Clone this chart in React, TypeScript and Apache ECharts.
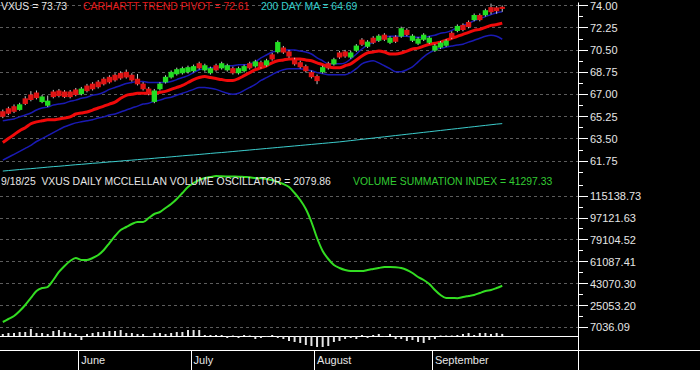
import React, { useEffect, useRef } from 'react';
import * as echarts from 'echarts';

const dates = ['5/12','5/13','5/14','5/15','5/16','5/19','5/20','5/21','5/22','5/23','5/27','5/28','5/29','5/30',
'6/2','6/3','6/4','6/5','6/6','6/9','6/10','6/11','6/12','6/13','6/16','6/17','6/18','6/20','6/23','6/24','6/25','6/26','6/27','6/30',
'7/1','7/2','7/3','7/7','7/8','7/9','7/10','7/11','7/14','7/15','7/16','7/17','7/18','7/21','7/22','7/23','7/24','7/25','7/28','7/29','7/30','7/31',
'8/1','8/4','8/5','8/6','8/7','8/8','8/11','8/12','8/13','8/14','8/15','8/18','8/19','8/20','8/21','8/22','8/25','8/26','8/27','8/28','8/29',
'9/2','9/3','9/4','9/5','9/8','9/9','9/10','9/11','9/12','9/15','9/16','9/17','9/18'];
const futureDates = ['9/19','9/22','9/23','9/24','9/25','9/26','9/29','9/30','10/1','10/2','10/3','10/6','10/7'];
const monthNames: Record<string, string> = { '6': 'June', '7': 'July', '8': 'August', '9': 'September' };

const opens = [65.67,65.90,66.06,65.77,66.68,66.99,67.14,66.39,66.10,67.22,
67.30,67.22,67.22,67.38,67.01,67.69,67.84,68.00,68.23,68.38,
68.54,68.69,68.77,68.54,68.23,67.84,67.45,66.40,67.40,67.94,
68.33,68.58,68.66,68.74,68.82,69.45,68.89,68.66,69.29,69.05,
68.89,69.06,68.66,68.82,69.45,69.20,69.53,69.28,70.15,70.32,
70.69,70.38,69.76,69.53,69.22,68.75,68.44,68.74,69.45,69.36,
70.30,70.38,69.90,70.44,71.31,70.75,71.46,71.22,71.70,71.06,
71.54,71.55,72.08,71.22,70.99,71.30,71.06,70.44,70.68,70.83,
71.85,71.99,72.47,72.70,72.85,73.25,73.23,73.87,73.85,73.90];
const closes = [65.23,65.46,65.62,66.21,66.24,66.55,66.70,66.83,66.50,66.78,
66.86,66.78,66.78,66.94,67.45,67.25,67.40,67.56,67.79,67.94,
68.10,68.25,68.33,68.10,67.79,67.40,67.01,67.30,67.84,68.38,
68.77,68.98,69.06,69.14,69.22,69.05,69.29,69.06,68.89,69.45,
69.29,68.66,69.06,69.22,69.05,69.60,69.13,69.68,69.75,71.12,
70.29,69.98,69.36,69.13,68.82,68.35,68.04,69.14,69.05,69.76,
69.90,69.98,70.30,70.84,70.91,71.15,71.06,71.62,71.30,71.46,
71.14,72.21,71.68,71.62,71.39,71.70,71.46,70.84,71.08,71.23,
71.45,72.39,72.07,72.30,73.25,72.85,73.63,73.47,73.55,73.73];
const highs = [65.80,66.02,66.20,66.33,66.85,67.25,67.30,66.95,66.90,67.35,
67.42,67.33,67.34,67.50,67.58,67.82,67.96,68.12,68.35,68.50,
68.66,68.82,68.95,68.66,68.60,67.96,67.58,67.42,67.96,68.50,
68.88,69.10,69.18,69.26,69.34,69.57,69.41,69.18,69.41,69.57,
69.41,69.18,69.18,69.34,69.57,69.72,69.65,69.80,70.27,71.24,
70.81,70.50,69.88,69.65,69.34,68.87,68.56,69.26,69.57,69.88,
70.42,70.50,70.42,70.96,71.43,71.27,71.58,71.74,71.82,71.58,
71.66,72.33,72.20,71.74,71.51,71.82,71.58,70.96,71.20,71.35,
71.97,72.51,72.59,72.82,73.37,73.37,73.75,74.15,73.95,74.00];
const lows = [65.12,65.36,65.52,65.70,66.15,66.45,66.60,66.30,66.00,66.68,
66.76,66.70,66.68,66.85,66.92,67.15,67.30,67.46,67.70,67.85,
68.00,68.15,68.24,68.00,67.70,67.30,66.92,66.30,67.30,67.85,
68.24,68.48,68.56,68.64,68.72,68.95,68.79,68.56,68.79,68.95,
68.79,68.56,68.56,68.72,68.95,69.10,69.03,69.18,69.65,70.22,
70.19,69.88,69.26,69.03,68.72,68.25,67.80,68.64,68.95,69.26,
69.80,69.88,69.80,70.34,70.81,70.65,70.96,71.12,71.20,70.96,
71.04,71.45,71.58,71.12,70.89,71.20,70.96,70.34,70.58,70.73,
71.35,71.89,71.97,72.20,72.75,72.75,73.13,73.30,73.35,73.50];

const trendPivot = [63.20,63.51,63.82,64.13,64.37,64.68,64.83,64.91,64.99,64.99,
65.06,65.14,65.22,65.45,65.53,65.61,65.76,65.92,66.07,66.23,
66.38,66.69,66.92,67.00,67.08,67.08,67.08,67.08,67.16,67.23,
67.39,67.54,67.70,67.93,68.16,68.32,68.40,68.32,68.24,68.16,
68.09,68.09,68.24,68.47,68.71,68.94,69.09,69.25,69.48,69.64,
69.71,69.79,69.79,69.79,69.71,69.64,69.48,69.33,69.17,69.09,
69.09,69.25,69.40,69.71,70.02,70.26,70.33,70.41,70.33,70.18,
70.18,70.26,70.41,70.57,70.64,70.80,70.95,71.03,71.11,71.26,
71.42,71.57,71.73,71.88,72.04,72.12,72.27,72.43,72.50,72.61];
const upperBand = [64.91,64.99,65.06,65.22,65.37,65.53,65.76,65.92,65.99,66.15,
66.23,66.30,66.46,66.54,66.69,66.77,66.92,67.00,67.16,67.39,
67.54,67.70,67.85,67.93,68.01,68.01,67.93,67.93,67.93,67.93,
68.01,68.16,68.32,68.47,68.71,68.94,69.02,69.09,69.09,69.17,
69.25,69.25,69.33,69.33,69.40,69.56,69.87,70.10,70.33,70.41,
70.49,70.49,70.49,70.41,70.33,70.18,69.87,69.64,69.40,69.40,
69.40,69.48,69.79,70.18,70.57,70.88,71.11,71.34,71.50,71.57,
71.57,71.57,71.57,71.50,71.50,71.50,71.57,71.65,71.81,71.88,
72.04,72.27,72.43,72.58,72.81,72.97,73.12,73.28,73.43,73.51];
const lowerBand = [61.81,62.04,62.27,62.50,62.74,62.97,63.28,63.51,63.74,63.98,
64.21,64.44,64.60,64.75,64.83,64.91,64.99,65.14,65.22,65.37,
65.45,65.61,65.76,65.92,66.07,66.23,66.30,66.46,66.54,66.69,
66.77,66.92,67.08,67.23,67.39,67.54,67.54,67.47,67.39,67.23,
67.08,67.00,67.08,67.31,67.54,67.78,68.09,68.32,68.55,68.78,
68.94,69.02,69.02,69.02,68.94,68.86,68.71,68.63,68.55,68.55,
68.55,68.55,68.71,69.02,69.40,69.56,69.64,69.48,69.25,69.02,
68.78,68.78,68.94,69.17,69.56,69.95,70.26,70.49,70.64,70.72,
70.80,70.88,70.95,71.11,71.26,71.42,71.57,71.65,71.57,71.34];
const ma200 = [60.95,60.99,61.03,61.07,61.11,61.14,61.18,61.22,61.26,61.30,
61.33,61.37,61.41,61.45,61.48,61.52,61.56,61.59,61.63,61.67,
61.70,61.74,61.78,61.81,61.85,61.89,61.92,61.96,62.00,62.03,
62.07,62.11,62.15,62.19,62.22,62.26,62.30,62.34,62.38,62.41,
62.45,62.49,62.53,62.57,62.61,62.65,62.69,62.73,62.77,62.81,
62.85,62.89,62.93,62.97,63.01,63.05,63.09,63.13,63.17,63.21,
63.25,63.30,63.35,63.40,63.45,63.50,63.55,63.60,63.65,63.70,
63.75,63.80,63.85,63.90,63.95,64.00,64.05,64.10,64.15,64.20,
64.25,64.30,64.35,64.40,64.45,64.50,64.55,64.60,64.65,64.69];

const summationIndex = [11500,13970,16430,20540,25470,31220,36970,39430,40260,46010,
52580,57510,61620,64080,62440,62440,64080,66550,70650,76400,
82160,87080,89550,92010,93660,93660,96940,100230,101870,105160,
108440,112550,117480,122410,125700,128160,129800,130630,131450,131200,
131100,131000,130900,130630,130400,129800,129600,128980,128160,126520,
124880,122410,117480,111730,104340,93660,80510,69830,63260,58330,
55870,54220,53400,53400,53300,54220,55040,55870,56690,56690,
56500,55870,54220,51760,48470,46010,42720,37790,33680,31220,
31220,31100,32040,32860,33680,35330,36970,37790,39430,41297.33];
const oscillatorBars = [2000,3000,3000,4000,4000,7000,3000,3000,2000,5000,
6000,4000,3000,2000,-4000,2000,3000,4000,4000,5000,
5000,6000,3000,3000,2000,2000,-1000,3000,3000,2000,
3000,4000,4000,6000,6000,6000,1000,1000,1000,1000,
-2000,500,-2000,1000,500,-3000,-2000,-1000,1000,-2000,
-3000,-5000,-6000,-7000,-9000,-10000,-11000,-11000,-10000,-6000,
-5000,-3000,-2000,-3000,1000,-2000,1000,2000,-1000,2000,
-3000,-3000,-5000,-4000,-6000,-7000,-4000,-3000,500,500,
500,1000,2000,3000,1000,3000,3000,2000,3000,2079.86];

const priceTicks = [61.75, 63.5, 65.25, 67.0, 68.75, 70.5, 72.25, 74.0];
const priceMinorTicks = [60.875, 62.625, 64.375, 66.125, 67.875, 69.625, 71.375, 73.125];
const volTicks = [7036.09, 25053.2, 43070.3, 61087.41, 79104.52, 97121.63, 115138.73];
const volMinorTicks = [16044.65, 34061.75, 52078.86, 70095.97, 88113.08, 106130.18, 124147.28];

const FONT = 'Arial, "Liberation Sans", sans-serif';
const LABEL = '#e6e6e6';
const TITLE_SIZE = 10.4;

export default function App() {
  const ref = useRef<HTMLDivElement>(null);
  useEffect(() => {
    document.body.style.margin = '0';
    const chart = echarts.init(ref.current!, null, { renderer: 'svg' });
    const categories = [...dates, ...futureDates];
    const monthStart = new Set<number>();
    for (let i = 1; i < dates.length; i++) {
      if (dates[i].split('/')[0] !== dates[i - 1].split('/')[0]) monthStart.add(i);
    }
    const candleData = dates.map((_, i) => [i, opens[i], closes[i], lows[i], highs[i]]);
    const hiddenX = (gridIndex: number) => ({
      type: 'category', gridIndex, data: categories, boundaryGap: true, show: false,
    });
    const gridLine = { show: true, lineStyle: { color: '#5c5c5c', type: [3, 3], width: 1 } };
    const white = { color: '#ffffff', width: 1 };
    const title = (text: string, left: number, top: number, color: string) => ({
      text, left, top, padding: 0, itemGap: 0,
      textStyle: { color, fontSize: TITLE_SIZE, fontWeight: 'normal', fontFamily: FONT },
    });
    const option: any = {
      animation: false,
      backgroundColor: '#000000',
      textStyle: { fontFamily: FONT },
      title: [
        title('VXUS = 73.73', 1, 1, '#e6e6e6'),
        title('CARHARTT TREND PIVOT = 72.61', 83, 1, '#e01818'),
        title('200 DAY MA = 64.69', 261, 1, '#33cccc'),
        title('9/18/25  VXUS DAILY MCCLELLAN VOLUME OSCILLATOR = 2079.86', 1, 176, '#e6e6e6'),
        title('VOLUME SUMMATION INDEX = 41297.33', 353, 176, '#33cc33'),
      ],
      grid: [
        { left: 0, top: 0, width: 578, height: 175 },
        { left: 0, top: 175, width: 578, height: 161 },
        { left: 0, top: 316, width: 578, height: 34 },
        { left: 0, top: 350, width: 578, height: 20 },
      ],
      xAxis: [
        hiddenX(0),
        hiddenX(1),
        {
          type: 'category', gridIndex: 2, data: categories, boundaryGap: true,
          axisLine: { show: true, onZero: true, lineStyle: white },
          axisTick: { show: false }, axisLabel: { show: false }, splitLine: { show: false },
        },
        {
          type: 'category', gridIndex: 3, data: categories, boundaryGap: true, position: 'top',
          axisLine: { show: true, onZero: false, lineStyle: white },
          axisTick: { show: true, inside: true, length: 20, alignWithLabel: false, interval: (i: number) => monthStart.has(i), lineStyle: white },
          axisLabel: {
            show: true, inside: true, margin: 4, align: 'left', verticalAlign: 'top',
            interval: (i: number) => monthStart.has(i),
            formatter: (v: string) => monthNames[v.split('/')[0]] || '',
            color: LABEL, fontSize: 11, fontFamily: FONT,
          },
          splitLine: { show: false },
        },
      ],
      yAxis: [
        {
          type: 'value', gridIndex: 0, position: 'right', min: 60.64, max: 74.21,
          axisLine: { show: true, lineStyle: white },
          axisTick: { show: true, customValues: priceTicks, length: 10, lineStyle: white },
          axisLabel: { show: true, customValues: priceTicks, margin: 12, color: LABEL, fontSize: 11, fontFamily: FONT, formatter: (v: number) => v.toFixed(2) },
          splitLine: gridLine,
        },
        {
          type: 'value', gridIndex: 0, position: 'right', min: 60.64, max: 74.21,
          axisLine: { show: false },
          axisTick: { show: true, customValues: priceMinorTicks, length: 5, lineStyle: white },
          axisLabel: { show: false }, splitLine: { show: false },
        },
        {
          type: 'value', gridIndex: 1, position: 'right', min: 0, max: 132270,
          axisLine: { show: true, lineStyle: white },
          axisTick: { show: true, customValues: volTicks, length: 10, lineStyle: white },
          axisLabel: { show: true, customValues: volTicks, margin: 12, color: LABEL, fontSize: 11, fontFamily: FONT, formatter: (v: number) => v.toFixed(2) },
          splitLine: gridLine,
        },
        {
          type: 'value', gridIndex: 1, position: 'right', min: 0, max: 132270,
          axisLine: { show: false },
          axisTick: { show: true, customValues: volMinorTicks, length: 5, lineStyle: white },
          axisLabel: { show: false }, splitLine: { show: false },
        },
        {
          type: 'value', gridIndex: 2, position: 'right', min: -14000, max: 20000,
          axisLine: { show: true, onZero: false, lineStyle: white },
          axisTick: { show: false }, axisLabel: { show: false }, splitLine: { show: false },
        },
        {
          type: 'value', gridIndex: 3, position: 'right', min: 0, max: 1,
          axisLine: { show: true, onZero: false, lineStyle: white },
          axisTick: { show: false }, axisLabel: { show: false }, splitLine: { show: false },
        },
      ],
      graphic: [
        { type: 'line', shape: { x1: 578, y1: 350.5, x2: 700, y2: 350.5 }, style: { stroke: '#ffffff', lineWidth: 1 }, silent: true },
      ],
      series: [
        {
          name: '200 DAY MA', type: 'line', xAxisIndex: 0, yAxisIndex: 0, data: ma200,
          symbol: 'none', lineStyle: { color: '#3ccccc', width: 1 }, z: 2,
        },
        {
          name: 'Lower', type: 'line', xAxisIndex: 0, yAxisIndex: 0, data: lowerBand,
          symbol: 'none', smooth: 0.3, lineStyle: { color: '#1a1ab4', width: 1.5 }, z: 2,
        },
        {
          name: 'Upper', type: 'line', xAxisIndex: 0, yAxisIndex: 0, data: upperBand,
          symbol: 'none', smooth: 0.3, lineStyle: { color: '#1a1ab4', width: 1.5 }, z: 2,
        },
        {
          name: 'Trend Pivot', type: 'line', xAxisIndex: 0, yAxisIndex: 0, data: trendPivot,
          symbol: 'none', smooth: 0.3, lineStyle: { color: '#f00a0a', width: 3 }, z: 3,
        },
        {
          name: 'VXUS', type: 'custom', xAxisIndex: 0, yAxisIndex: 0, data: candleData, z: 4,
          encode: { x: 0, y: [1, 2, 3, 4] },
          renderItem: (params: any, api: any) => {
            const idx = api.value(0);
            const o = api.value(1), c = api.value(2), l = api.value(3), h = api.value(4);
            const pO = api.coord([idx, o]);
            const pC = api.coord([idx, c]);
            const pL = api.coord([idx, l]);
            const pH = api.coord([idx, h]);
            const w = api.size([1, 0])[0] * 0.95;
            const top = Math.min(pO[1], pC[1]);
            const bh = Math.max(Math.abs(pO[1] - pC[1]), 1);
            const color = c >= o ? '#22dd22' : '#e01414';
            return {
              type: 'group',
              children: [
                { type: 'line', shape: { x1: pL[0], y1: pL[1], x2: pH[0], y2: pH[1] }, style: { stroke: '#c8c8c8', lineWidth: 1 } },
                { type: 'rect', shape: { x: pO[0] - w / 2, y: top, width: w, height: bh }, style: { fill: color } },
              ],
            };
          },
        },
        {
          name: 'Volume Summation Index', type: 'line', xAxisIndex: 1, yAxisIndex: 2, data: summationIndex,
          symbol: 'none', smooth: 0.3, lineStyle: { color: '#33dd22', width: 2 }, z: 3,
        },
        {
          name: 'McClellan Volume Oscillator', type: 'bar', xAxisIndex: 2, yAxisIndex: 4, data: oscillatorBars,
          barWidth: 2, itemStyle: { color: '#e6e6e6' }, z: 2,
        },
      ],
    };
    chart.setOption(option);
    return () => chart.dispose();
  }, []);
  return <div ref={ref} style={{ width: 700, height: 370, background: '#000' }} />;
}
